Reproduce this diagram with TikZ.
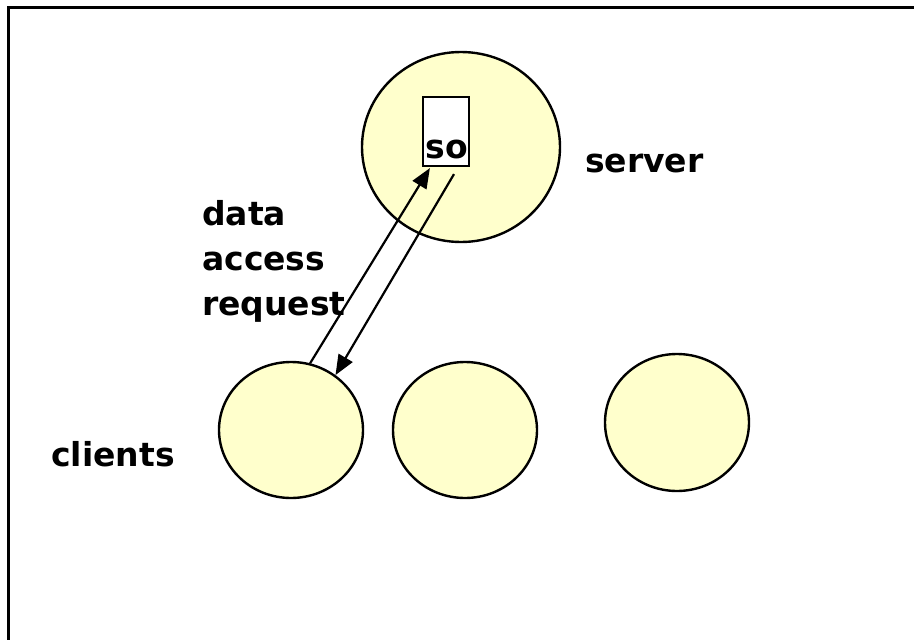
\documentclass[tikz,border=0pt]{standalone}
\usepackage{fontspec}
\setmainfont{DejaVu Sans}
\usetikzlibrary{shapes.geometric,arrows.meta,calc}
\definecolor{cyellow}{HTML}{FFFFCC}
\begin{document}
\begin{tikzpicture}[x=1pt,y=-1pt,
  blob/.style={ellipse,draw=black,line width=2.4pt,fill=cyellow,inner sep=0pt},
  lbl/.style={font=\fontsize{33}{45}\selectfont\bfseries,inner sep=0pt,anchor=base west},
  conn/.style={line width=2.2pt,-{Triangle[length=20pt,width=16pt]}}]
\useasboundingbox (0,0) rectangle (914,640);
\clip (0,0) rectangle (914,640);
\fill[white] (0,0) rectangle (914,640);
\draw[line width=3pt] (8,660) -- (8,7) -- (930,7);
% server
\node[blob,minimum width=198pt,minimum height=190pt] (server) at (461,147) {};
\node[draw=black,line width=2.2pt,fill=white,minimum width=46pt,minimum height=69pt,inner sep=0pt] (sobox) at (446,131.5) {};
\node[lbl,anchor=base] (solbl) at (447,158) {so};
% clients
\node[blob,minimum width=144pt,minimum height=136pt] (c1) at (291,430) {};
\node[blob,minimum width=144pt,minimum height=136pt] (c2) at (465,430) {};
\node[blob,minimum width=144pt,minimum height=137pt] (c3) at (677,422.5) {};
% labels
\node[lbl] (srvlbl) at (585,172) {server};
\node[lbl] (cllbl) at (51,466) {clients};
\node[lbl,align=left] (reqlbl) at (202,315) {data\\access\\request};
% arrows
\coordinate (tip1) at ($(sobox.south west)+(8,1)$);
\coordinate (start2) at ($(sobox.south)+(8,7)$);
\draw[conn] (c1.74) -- (tip1);
\draw[conn] (start2) -- (c1.51);
\end{tikzpicture}
\end{document}
